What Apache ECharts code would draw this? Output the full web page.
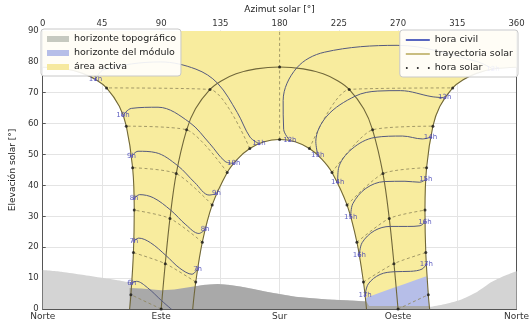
<!DOCTYPE html>
<html><head><meta charset="utf-8">
<script src="https://cdn.jsdelivr.net/npm/echarts@6/dist/echarts.min.js"></script>
<style>html,body{margin:0;padding:0;background:#fff}#c{width:532px;height:324px}</style>
</head><body><div id="c"></div>
<script>
// ---------- axes ----------
const azimuthTicks = [0, 45, 90, 135, 180, 225, 270, 315, 360];
const cardinalAz = [0, 90, 180, 270, 360];
const cardinalNames = ['Norte', 'Este', 'Sur', 'Oeste', 'Norte'];
const civilHourNames = ['6h','7h','8h','9h','10h','11h','12h','13h','14h','15h','16h','17h'];
const solarHourNames = ['6h','7h','8h','9h','10h','11h','12h','13h','14h','15h','16h','17h','18h'];

// ---------- horizons [azimuth, elevation] ----------
const topoHorizon = [[0,12.6],[15,12],[30,11.1],[45,10.1],[60,9.1],[66,8.7],[75,8.2],[90,7.4],[111,7],[122,7.8],[133,8.1],[142,7.8],[150,7.3],[160,6.5],[171,5.5],[182,4.7],[192,4.0],[205,3.5],[217,3.1],[230,2.8],[246,2.4],[260,1.2],[280,0.8],[294,0.7],[305,1.5],[317,2.9],[330,5.5],[341,8.7],[350,10.6],[360,12.2]];
const topoShadeInBand = [[66,0],[66,6.8],[75,6.6],[90,6.1],[100,6.3],[111,7],[122,7.8],[133,8.1],[142,7.8],[150,7.3],[160,6.5],[171,5.5],[182,4.7],[192,4.0],[205,3.5],[217,3.1],[230,2.8],[240,2.6],[246,2.4],[248,1],[294,1],[294,0]];
const moduleHorizon = [[246,0],[245.3,3.6],[255,5.1],[265,6.6],[275,8.1],[285,9.6],[291.6,10.6],[293,4.6],[294,0]];

// ---------- daily sun paths [azimuth, elevation] ----------
const pathJunAM = [[66.03,0],[67.0,4.63],[68.93,18.25],[69.54,32.0],[68.32,45.73],[63.52,59.17],[58.2,65.62],[48.5,71.55],[40.8,74.13],[30.3,76.26],[16.4,77.74],[0,78.26]];
const pathJunPM = [[360,78.26],[343.6,77.74],[329.7,76.26],[319.2,74.13],[311.5,71.55],[301.8,65.62],[296.48,59.17],[291.68,45.73],[290.46,32.0],[291.07,18.25],[293.0,4.63],[293.97,0]];
const pathMar = [[90,0],[93.11,14.68],[96.68,29.31],[101.46,43.82],[109.35,57.99],[116.09,64.78],[127.11,71.05],[135.6,73.8],[146.95,76.12],[162.1,77.7],[180,78.3],[197.9,77.7],[213.05,76.12],[224.4,73.8],[232.89,71.05],[243.91,64.78],[250.65,57.99],[258.54,43.82],[263.32,29.31],[266.89,14.68],[270,0]];
const pathDec = [[113.97,0],[116.29,8.73],[121.27,21.62],[128.78,33.68],[140.19,44.21],[147.98,48.53],[157.35,51.92],[168.22,54.1],[180,54.86],[191.78,54.1],[202.65,51.92],[212.02,48.53],[219.81,44.21],[231.22,33.68],[238.73,21.62],[243.71,8.73],[246.03,0]];

// ---------- solar-hour points (6h..18h) ----------
const solarJun = [[67.0,4.63],[68.93,18.25],[69.54,32.0],[68.32,45.73],[63.52,59.17],[48.5,71.55],null,[311.5,71.55],[296.48,59.17],[291.68,45.73],[290.46,32.0],[291.07,18.25],[293.0,4.63]];
const solarMar = [[90,0],[93.11,14.68],[96.68,29.31],[101.46,43.82],[109.35,57.99],[127.11,71.05],[180,78.3],[232.89,71.05],[250.65,57.99],[258.54,43.82],[263.32,29.31],[266.89,14.68],[270,0]];
const solarDec = [null,[116.29,8.73],[121.27,21.62],[128.78,33.68],[140.19,44.21],[157.35,51.92],[180,54.86],[202.65,51.92],[219.81,44.21],[231.22,33.68],[238.73,21.62],[243.71,8.73],null];

// ---------- civil-hour points (6h..17h) per date ----------
const civilDec = [null,[117.7,13.03],[123.39,25.69],[131.97,37.33],[145.14,47.14],[164.34,53.51],[187.8,54.52],[208.98,49.82],[224.1,41.0],[234.03,29.87],[240.59,17.46],[244.96,4.39]];
const civilJan = [null,[113.52,11.24],[118.66,24.44],[126.45,36.87],[138.59,47.75],[157.55,55.62],[183.07,58.16],[207.51,54.19],[224.72,45.44],[235.66,34.1],[242.7,21.46],[247.41,8.13]];
const civilFeb = [[100.8,-1.17],[104.18,13.18],[108.79,27.26],[115.61,40.87],[126.96,53.49],[147.84,63.58],[182.69,67.47],[215.93,62.43],[235.04,51.83],[245.52,39.03],[251.96,25.32],[256.35,11.18]];
const civilMar = [[90.54,2.61],[93.70,17.29],[97.41,31.93],[102.56,46.39],[111.43,60.44],[132.87,73.06],[192.94,77.99],[237.54,68.9],[252.45,55.52],[259.54,41.24],[264.01,26.72],[267.46,12.07]];
const civilApr5 = [null,null,null,null,null,[116.45,77.61],[214,83.1],[254.6,70.53],null,null,null,null];
const civilApr = [[79.53,6.93],[81.99,21.43],[84.07,36.0],[85.9,50.61],[87.63,65.3],[89.5,79.96],[269.25,85.33],[271.72,70.67],[273.45,55.97],[275.24,41.34],[277.22,26.72],[279.52,12.19]];
const civilMay = [[71.18,8.96],[72.94,22.94],[73.54,37.01],[72.42,51.05],[67.34,64.92],[46.56,77.5],[329.2,80.17],[295.81,68.71],[288.44,55.04],[286.56,41.02],[286.76,26.94],[288.22,12.91]];
const civilJun = [[67.65,8.33],[69.24,22.0],[69.42,35.75],[67.5,49.42],[60.99,62.73],[40.04,74.33],[342.17,77.64],[305.48,68.39],[294.61,55.56],[291.11,42.0],[290.48,28.24],[291.47,14.52]];

// ---------- styles ----------
const FONT = 'DejaVu Sans';
const C_TOPO = '#d4d4d4', C_TOPO_DARK = '#a9a9a9', C_MOD = '#b6bee8', C_ACTIVE = '#f8ec9e';
const C_CIVIL = '#555a7e', C_PATH = '#70673a', C_SOLAR = '#8d8458';

const activeArea = [].concat(pathJunAM, [[0,90],[360,90]], pathJunPM, pathDec.slice().reverse());

function polygonSeries(name, pts, color, z){
  return {
    name: name, type: 'custom', coordinateSystem: 'cartesian2d', z: z, silent: true,
    itemStyle: {color: color}, data: [pts[0]], clip: true,
    renderItem: function(params, api){
      return {type: 'polygon', shape: {points: pts.map(function(p){ return api.coord(p); })},
              style: {fill: color, stroke: null}};
    }
  };
}
function lineSeries(name, data, color, width, type, z, smooth){
  return {name: name, type: 'line', data: data, symbol: 'none', showSymbol: false, smooth: smooth,
          lineStyle: {color: color, width: width, type: type}, z: z, silent: true, clip: true};
}

const series = [];
series.push({name: 'horizonte topográfico', type: 'line', data: topoHorizon, symbol: 'none', smooth: 0.2,
  lineStyle: {width: 0}, areaStyle: {color: C_TOPO, opacity: 1}, itemStyle: {color: C_TOPO}, z: 1, silent: true});
series.push(polygonSeries('área activa', activeArea, C_ACTIVE, 2));
series.push(polygonSeries('horizonte del módulo', moduleHorizon, C_MOD, 2));
series.push(polygonSeries('horizonte topográfico', topoShadeInBand, C_TOPO_DARK, 2));

for (let i = 0; i < solarHourNames.length; i++) {
  const pts = [solarDec[i], solarMar[i], solarJun[i]].filter(function(p){ return p; });
  if (solarHourNames[i] === '12h') pts.push([180, 90]);
  if (pts.length > 1) series.push(lineSeries('hora solar', pts, C_SOLAR, 0.8, [3, 2.5], 2, 0.25));
}
[pathJunAM, pathJunPM, pathMar, pathDec].forEach(function(p){
  series.push(lineSeries('trayectoria solar', p, C_PATH, 1.1, 'solid', 2, 0.35));
});
const civilDates = [civilDec, civilJan, civilFeb, civilMar, civilApr5, civilApr, civilMay, civilJun];
for (let i = 0; i < civilHourNames.length; i++) {
  const pts = civilDates.map(function(d){ return d[i]; }).filter(function(p){ return p; });
  series.push(lineSeries('hora civil', pts, C_CIVIL, 1, 'solid', 2, 0.35));
}
const dots = [].concat(solarDec, solarMar, solarJun).filter(function(p){ return p; });
series.push({name: 'hora solar', type: 'scatter', data: dots, symbol: 'circle', symbolSize: 3,
  itemStyle: {color: '#1a1a1a'}, z: 3, silent: true});
const labelData = [];
civilHourNames.forEach(function(n, i){
  if (civilDec[i]) labelData.push({name: n, value: civilDec[i]});
  if (civilJun[i]) labelData.push({name: n, value: civilJun[i]});
});
series.push({name: 'etiquetas', type: 'scatter', data: labelData, symbol: 'circle', symbolSize: 3,
  itemStyle: {color: 'rgba(120,110,200,0.85)'}, z: 3, silent: true,
  label: {show: true, formatter: '{b}', position: 'inside', color: '#3434b0', fontSize: 7, fontFamily: FONT}});

const legendBox = {selectedMode: false, orient: 'vertical', z: 50, zlevel: 0,
  padding: [5, 5, 4, 6], backgroundColor: 'rgba(255,255,255,0.9)', borderColor: '#c8c8c8', borderWidth: 1, borderRadius: 3,
  textStyle: {fontSize: 9.5, color: '#222', fontFamily: FONT}};

const option = {
  animation: false,
  backgroundColor: '#fff',
  textStyle: {fontFamily: FONT},
  grid: {left: 39, right: 12, top: 25, bottom: 15, containLabel: false},
  xAxis: [
    {type: 'value', position: 'bottom', min: 0, max: 360, interval: 90,
     axisLine: {show: true, onZero: false, lineStyle: {color: '#555', width: 1}},
     axisTick: {show: true, inside: true, length: 3, lineStyle: {color: '#555'}},
     axisLabel: {color: '#333', fontSize: 9, fontFamily: FONT, margin: 3,
       formatter: function(v){ const k = cardinalAz.indexOf(v); return k >= 0 ? cardinalNames[k] : ''; }},
     splitLine: {show: false}},
    {type: 'value', position: 'top', min: 0, max: 360, interval: 45,
     name: 'Azimut solar [°]', nameLocation: 'middle', nameGap: 15,
     nameTextStyle: {color: '#222', fontSize: 9, fontFamily: FONT},
     axisLine: {show: true, onZero: false, lineStyle: {color: '#555', width: 1}},
     axisTick: {show: true, inside: true, length: 3, lineStyle: {color: '#555'}},
     axisLabel: {color: '#333', fontSize: 8.5, fontFamily: FONT, margin: 3,
       formatter: function(v){ return azimuthTicks.indexOf(v) >= 0 ? String(v) : ''; }},
     splitLine: {show: true, lineStyle: {color: '#e4e4e4', width: 1}}}
  ],
  yAxis: [
    {type: 'value', position: 'left', min: 0, max: 90, interval: 10,
     name: 'Elevación solar [°]', nameLocation: 'middle', nameGap: 24, nameRotate: 90,
     nameTextStyle: {color: '#222', fontSize: 9, fontFamily: FONT},
     axisLine: {show: true, onZero: false, lineStyle: {color: '#555', width: 1}},
     axisTick: {show: true, inside: true, length: 3, lineStyle: {color: '#555'}},
     axisLabel: {color: '#333', fontSize: 8.5, fontFamily: FONT, margin: 4},
     splitLine: {show: true, lineStyle: {color: '#e4e4e4', width: 1}}},
    {type: 'value', position: 'right', min: 0, max: 90, interval: 10,
     axisLine: {show: true, onZero: false, lineStyle: {color: '#555', width: 1}},
     axisTick: {show: false}, axisLabel: {show: false}, splitLine: {show: false}}
  ],
  legend: [
    Object.assign({}, legendBox, {left: 41, top: 29, itemWidth: 22, itemHeight: 6, itemGap: 4,
     data: [{name: 'horizonte topográfico', icon: 'rect', itemStyle: {color: '#c6c9c0'}},
            {name: 'horizonte del módulo', icon: 'rect', itemStyle: {color: C_MOD}},
            {name: 'área activa', icon: 'rect', itemStyle: {color: '#f6e9a0'}}]}),
    Object.assign({}, legendBox, {right: 14, top: 30, itemWidth: 24, itemHeight: 2, itemGap: 4,
     data: [{name: 'hora civil', icon: 'rect', itemStyle: {color: '#5866c0', opacity: 1}},
            {name: 'trayectoria solar', icon: 'rect', itemStyle: {color: '#c9bd80', opacity: 1}},
            {name: 'hora solar', icon: 'path://M0,1a1,1 0 1,0 2,0a1,1 0 1,0 -2,0zM11,1a1,1 0 1,0 2,0a1,1 0 1,0 -2,0zM22,1a1,1 0 1,0 2,0a1,1 0 1,0 -2,0z', itemStyle: {color: '#222'}}]})
  ],
  series: series
};
const chart = echarts.init(document.getElementById('c'), null, {renderer: 'canvas'});
chart.setOption(option);
</script></body></html>
